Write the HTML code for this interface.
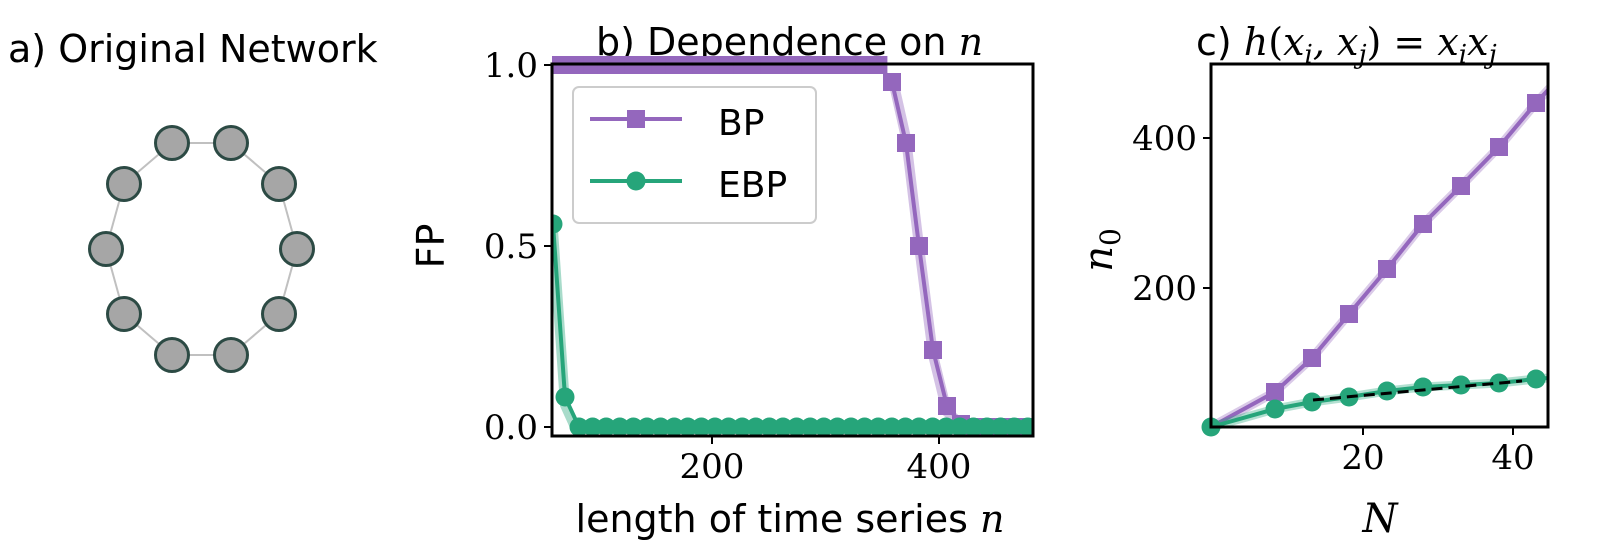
<!DOCTYPE html>
<html><head><meta charset="utf-8"><style>
html,body{margin:0;padding:0;background:#fff}
svg{display:block}
.s{font-family:"DejaVu Sans","Liberation Sans",sans-serif}
.m{font-family:"DejaVu Serif","Liberation Serif",serif}
</style></head><body>
<svg id="g" width="1600" height="559" viewBox="0 0 1600 559" xmlns="http://www.w3.org/2000/svg">
<rect width="1600" height="559" fill="#fff"/>
<text x="8" y="62" class="s" font-size="38">a) Original Network</text>
<text x="596" y="55" class="s" font-size="38">b) Dependence on <tspan class="m" font-style="italic">n</tspan></text>
<text x="1196" y="55" class="s" font-size="38">c) <tspan class="m" font-style="italic">h</tspan><tspan class="m">(</tspan><tspan class="m" font-style="italic">x<tspan font-size="26" dy="8">i</tspan><tspan dy="-8">, x</tspan><tspan font-size="26" dy="8">j</tspan></tspan><tspan class="m" dy="-8">) = </tspan><tspan class="m" font-style="italic">x<tspan font-size="26" dy="8">i</tspan><tspan dy="-8">x</tspan><tspan font-size="26" dy="8">j</tspan></tspan></text>
<g id="net"></g>
<g id="pb"></g>
<g id="pc"></g>
<!-- axes b -->
<rect x="552" y="64" width="481" height="372" fill="none" stroke="#000" stroke-width="3"/>
<g stroke="#000" stroke-width="2">
<line x1="544" y1="65" x2="552" y2="65"/><line x1="544" y1="246" x2="552" y2="246"/><line x1="544" y1="427" x2="552" y2="427"/>
<line x1="712" y1="436" x2="712" y2="444"/><line x1="939" y1="436" x2="939" y2="444"/>
</g>
<g class="m" font-size="34" text-anchor="end">
<text x="538" y="77">1.0</text><text x="538" y="258">0.5</text><text x="538" y="439">0.0</text>
</g>
<g class="m" font-size="34" text-anchor="middle">
<text x="712" y="478">200</text><text x="939" y="478">400</text>
</g>
<text x="790" y="532" class="s" font-size="38" text-anchor="middle">length of time series <tspan class="m" font-style="italic">n</tspan></text>
<text transform="translate(444,246) rotate(-90)" class="s" font-size="38" text-anchor="middle">FP</text>
<!-- legend -->
<rect x="573" y="87" width="243" height="136" rx="6" fill="#fff" fill-opacity="0.85" stroke="#ccc" stroke-width="2"/>
<line x1="590" y1="119" x2="682" y2="119" stroke="#9467bd" stroke-width="4"/>
<rect x="627" y="110" width="18" height="18" fill="#9467bd"/>
<line x1="590" y1="181" x2="682" y2="181" stroke="#26a57a" stroke-width="4"/>
<circle cx="636" cy="181" r="9.5" fill="#26a57a"/>
<text x="718" y="135" class="s" font-size="36">BP</text>
<text x="718" y="197" class="s" font-size="36">EBP</text>
<!-- axes c -->
<rect x="1211" y="64" width="337" height="363" fill="none" stroke="#000" stroke-width="3"/>
<g stroke="#000" stroke-width="2">
<line x1="1203" y1="138" x2="1211" y2="138"/><line x1="1203" y1="288" x2="1211" y2="288"/>
<line x1="1363" y1="427" x2="1363" y2="435"/><line x1="1513" y1="427" x2="1513" y2="435"/>
</g>
<g class="m" font-size="34" text-anchor="end">
<text x="1197" y="150">400</text><text x="1197" y="300">200</text>
</g>
<g class="m" font-size="34" text-anchor="middle">
<text x="1363" y="469">20</text><text x="1513" y="469">40</text>
</g>
<text x="1380" y="532" class="m" font-size="40" font-style="italic" text-anchor="middle">N</text>
<text transform="translate(1112,250) rotate(-90)" class="m" font-size="40" text-anchor="middle"><tspan font-style="italic">n</tspan><tspan font-size="28" dy="8">0</tspan></text>
</svg>
<script>
const NS="http://www.w3.org/2000/svg";
function el(p,t,a){const e=document.createElementNS(NS,t);for(const k in a)e.setAttribute(k,a[k]);p.appendChild(e);return e;}
const P="#9467bd",G="#26a57a";
// network
const net=document.getElementById("net");
const nodes=[[172,143],[231,143],[279,184],[297,249],[279,314],[231,355],[172,355],[124,314],[106,249],[124,184]];
for(let i=0;i<10;i++){const a=nodes[i],b=nodes[(i+1)%10];el(net,"line",{x1:a[0],y1:a[1],x2:b[0],y2:b[1],stroke:"#c0c0c0","stroke-width":2});}
for(const n of nodes)el(net,"circle",{cx:n[0],cy:n[1],r:16.5,fill:"#a6a6a6",stroke:"#2c4a44","stroke-width":3});
// plot b
const pb=document.getElementById("pb");
const cp=document.createElementNS(NS,"clipPath");cp.setAttribute("id","cb");el(cp,"rect",{x:552,y:40,width:481,height:396});document.getElementById("g").appendChild(cp);
pb.setAttribute("clip-path","url(#cb)");
let bp=[];for(let x=552;x<892;x+=13.6)bp.push([x,65]);
bp.push([892,82],[906,143],[919,246],[933,350],[947,406],[961,424],[975,427]);
for(let x=989;x<1040;x+=13.6)bp.push([x,427]);
el(pb,"polyline",{points:"892,76 906,138 919,246 933,355 947,412 965,427".replace(/./g,c=>c),fill:"none",stroke:P,"stroke-opacity":0.4,"stroke-width":10});
el(pb,"polyline",{points:bp.map(p=>p.join(",")).join(" "),fill:"none",stroke:P,"stroke-width":4});
for(const p of bp)el(pb,"rect",{x:p[0]-9,y:p[1]-9,width:18,height:18,fill:P});
let eb=[[553,224],[565,397]];for(let x=579;x<1040;x+=13.6)eb.push([x,427]);
el(pb,"polyline",{points:"553,230 565,405 575,427",fill:"none",stroke:G,"stroke-opacity":0.4,"stroke-width":10});
el(pb,"polyline",{points:eb.map(p=>p.join(",")).join(" "),fill:"none",stroke:G,"stroke-width":4});
for(const p of eb)el(pb,"circle",{cx:p[0],cy:p[1],r:9.5,fill:G});
// plot c
const pc=document.getElementById("pc");
const cc=document.createElementNS(NS,"clipPath");cc.setAttribute("id","cc");el(cc,"rect",{x:1200,y:64,width:348,height:375});document.getElementById("g").appendChild(cc);
pc.setAttribute("clip-path","url(#cc)");
const pp=[[1211,427],[1237,392],[1275,358],[1312,314],[1349,269],[1387,224],[1423,186],[1461,147],[1499,103],[1536,62]];
// recalc using zoom measurements
const pp2=[[1211,427],[1275,392],[1312,358],[1349,314],[1387,269],[1423,224],[1461,186],[1499,147],[1536,103],[1560,77]];
el(pc,"polyline",{points:pp2.map(p=>p.join(",")).join(" "),fill:"none",stroke:P,"stroke-opacity":0.35,"stroke-width":9});
el(pc,"polyline",{points:pp2.map(p=>p.join(",")).join(" "),fill:"none",stroke:P,"stroke-width":4});
for(const p of pp2.slice(1,9))el(pc,"rect",{x:p[0]-9,y:p[1]-9,width:18,height:18,fill:P});
const gp=[[1211,427],[1275,409],[1312,402],[1349,397],[1387,391],[1423,387],[1461,385],[1499,383],[1536,379],[1560,377]];
el(pc,"polyline",{points:gp.map(p=>p.join(",")).join(" "),fill:"none",stroke:G,"stroke-opacity":0.35,"stroke-width":9});
el(pc,"polyline",{points:gp.map(p=>p.join(",")).join(" "),fill:"none",stroke:G,"stroke-width":4});
for(const p of gp.slice(0,9))el(pc,"circle",{cx:p[0],cy:p[1],r:9.5,fill:G});
el(pc,"line",{x1:1313,y1:400,x2:1522,y2:381,stroke:"#000","stroke-width":3,"stroke-dasharray":"11,6"});
</script>
</body></html>
